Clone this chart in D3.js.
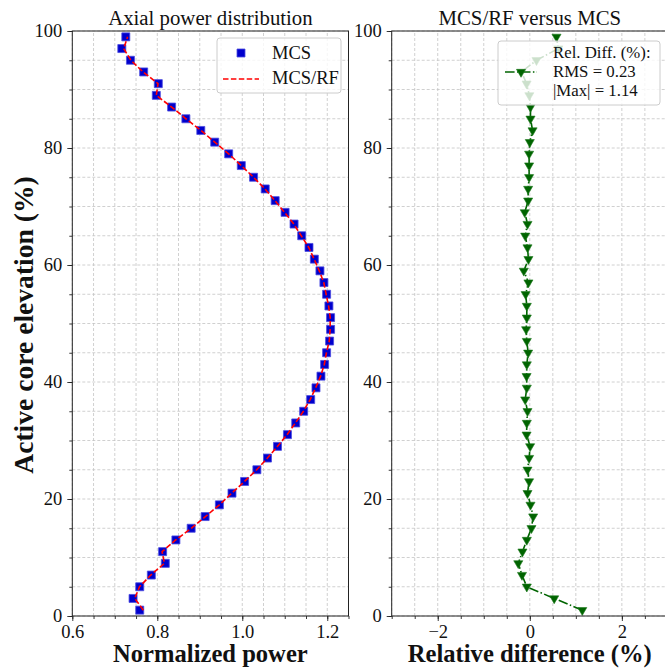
<!DOCTYPE html>
<html>
<head>
<meta charset="utf-8">
<script src="https://cdn.jsdelivr.net/npm/d3@7"></script>
<style>
  html, body { margin: 0; padding: 0; background: #fff; }
  svg { display: block; font-family: "Liberation Serif", "DejaVu Serif", serif; }
  .grid-line { stroke: #c4c4c4; stroke-width: 0.8; stroke-dasharray: 3,2; }
</style>
</head>
<body>
<div id="chart"></div>
<script>
// elevation of each axial node (%)
const elevation = [1, 3, 5, 7, 9, 11, 13, 15, 17, 19, 21, 23, 25, 27, 29, 31, 33, 35, 37, 39, 41, 43, 45, 47, 49,
  51, 53, 55, 57, 59, 61, 63, 65, 67, 69, 71, 73, 75, 77, 79, 81, 83, 85, 87, 89, 91, 93, 95, 97, 99];

const mcsPower = [0.7587, 0.743, 0.7587, 0.786, 0.8188, 0.8126, 0.8438, 0.8797, 0.9126, 0.9461, 0.9758, 1.0055,
  1.0344, 1.0594, 1.0829, 1.1063, 1.1258, 1.1445, 1.161, 1.1735, 1.1852, 1.1938, 1.1985, 1.2055, 1.2078,
  1.2078, 1.2039, 1.1985, 1.1922, 1.1828, 1.1696, 1.157, 1.1399, 1.1219, 1.1008, 1.0774, 1.054, 1.0266,
  0.9977, 0.968, 0.9352, 0.9024, 0.8673, 0.8337, 0.7977, 0.8024, 0.768, 0.7368, 0.7165, 0.7259];

const mcsRfPower = [0.7673, 0.7469, 0.7582, 0.7847, 0.8168, 0.8113, 0.8433, 0.88, 0.9133, 0.9462, 0.9753, 1.0053,
  1.0339, 1.0592, 1.083, 1.1055, 1.1251, 1.1439, 1.1598, 1.1727, 1.1844, 1.193, 1.1981, 1.2047, 1.2068,
  1.207, 1.2031, 1.1974, 1.1918, 1.1813, 1.1692, 1.1564, 1.1388, 1.1213, 1.0996, 1.077, 1.0536, 1.0264,
  0.9976, 0.9679, 0.9352, 0.9029, 0.8674, 0.8338, 0.7976, 0.8018, 0.7666, 0.7379, 0.7209, 0.7301];

const relDiff = [1.14, 0.53, -0.065, -0.17, -0.25, -0.16, -0.065, 0.036, 0.073, 0.015, -0.05, -0.015, -0.05,
  -0.015, 0.007, -0.07, -0.065, -0.05, -0.1, -0.065, -0.07, -0.065, -0.036, -0.065, -0.08, -0.065, -0.065,
  -0.09, -0.03, -0.13, -0.03, -0.05, -0.1, -0.05, -0.11, -0.036, -0.036, -0.015, -0.015, -0.015, 0.0, 0.06,
  0.015, 0.015, -0.01, -0.07, -0.18, 0.145, 0.62, 0.58];

const yTicks = [0, 20, 40, 60, 80, 100];
const powerTicks = [0.6, 0.8, 1.0, 1.2];
const diffTicks = [-2, 0, 2];
const legendLeft = ["MCS", "MCS/RF"];
const legendRight = ["Rel. Diff. (%):", "RMS = 0.23", "|Max| = 1.14"];

const width = 665, height = 672;
const svg = d3.select("#chart").append("svg").attr("width", width).attr("height", height);

const y = d3.scaleLinear().domain([0, 100]).range([616, 31]);
const xPow = d3.scaleLinear().domain([0.6, 1.25]).range([72.3, 348.5]);
const xDiff = d3.scaleLinear().domain([-3, 3]).range([391.7, 667.9]);

const yMinor = d3.range(0, 100.01, 5);

function drawPanel(x, majorX, minorStep, fmt) {
  const [x0, x1] = x.range();
  const [d0, d1] = x.domain();
  const xMinor = d3.range(d0, d1 + 1e-9, minorStep).map((v) => +v.toFixed(4));
  const g = svg.append("g");

  // dashed grid on major + minor positions
  g.append("g").selectAll("line").data(xMinor).join("line")
    .attr("class", "grid-line")
    .attr("x1", (d) => x(d)).attr("x2", (d) => x(d))
    .attr("y1", y(0)).attr("y2", y(100));
  g.append("g").selectAll("line").data(yMinor).join("line")
    .attr("class", "grid-line")
    .attr("x1", x0).attr("x2", x1)
    .attr("y1", (d) => y(d)).attr("y2", (d) => y(d));

  // minor ticks
  g.append("g").attr("transform", `translate(0,${y(0)})`)
    .call(d3.axisBottom(x).tickValues(xMinor).tickSize(3).tickFormat(""))
    .call((a) => a.select(".domain").remove());
  g.append("g").attr("transform", `translate(${x0},0)`)
    .call(d3.axisLeft(y).tickValues(yMinor).tickSize(3).tickFormat(""))
    .call((a) => a.select(".domain").remove());

  // major ticks
  const xa = g.append("g").attr("transform", `translate(0,${y(0)})`)
    .call(d3.axisBottom(x).tickValues(majorX).tickSize(5).tickPadding(3.5).tickFormat(fmt));
  const ya = g.append("g").attr("transform", `translate(${x0},0)`)
    .call(d3.axisLeft(y).tickValues(yTicks).tickSize(5).tickPadding(5).tickFormat(d3.format("d")));
  [xa, ya].forEach((a) => {
    a.select(".domain").remove();
    a.selectAll("text").attr("font-size", 18.5).attr("font-family", "Liberation Serif").attr("fill", "#111");
  });
  g.selectAll(".tick line").attr("stroke", "#222").attr("stroke-width", 0.9);

  return g;
}

function frame(x) {
  const [x0, x1] = x.range();
  svg.append("rect")
    .attr("x", x0).attr("y", y(100))
    .attr("width", x1 - x0).attr("height", y(0) - y(100))
    .attr("fill", "none").attr("stroke", "#222").attr("stroke-width", 1);
}

// ---- left panel: axial power
drawPanel(xPow, powerTicks, 0.05, d3.format(".1f"));
const powerData = elevation.map((e, i) => ({ e, mcs: mcsPower[i], rf: mcsRfPower[i] }));

svg.append("g").selectAll("path").data(powerData).join("path")
  .attr("d", d3.symbol(d3.symbolSquare, 64))
  .attr("transform", (d) => `translate(${xPow(d.mcs)},${y(d.e)})`)
  .attr("fill", "#0000cd").attr("stroke", "#4b4be0").attr("stroke-width", 0.8);

svg.append("path").datum(powerData)
  .attr("fill", "none").attr("stroke", "#ff0000").attr("stroke-width", 1.6)
  .attr("stroke-dasharray", "5.5,2.4")
  .attr("d", d3.line().x((d) => xPow(d.rf)).y((d) => y(d.e)));

frame(xPow);

// ---- right panel: relative difference
drawPanel(xDiff, diffTicks, 0.5, d3.format("d"));
const diffData = elevation.map((e, i) => ({ e, v: relDiff[i] }));

svg.append("path").datum(diffData)
  .attr("fill", "none").attr("stroke", "#006400").attr("stroke-width", 1.6)
  .attr("stroke-dasharray", "9.6,2.4,1.5,2.4")
  .attr("d", d3.line().x((d) => xDiff(d.v)).y((d) => y(d.e)));

const tri = d3.symbol(d3.symbolTriangle, 36);
svg.append("g").selectAll("path").data(diffData).join("path")
  .attr("d", tri)
  .attr("transform", (d) => `translate(${xDiff(d.v)},${y(d.e)}) rotate(180)`)
  .attr("fill", "#006400").attr("stroke", "#1f7a1f").attr("stroke-width", 0.6);

frame(xDiff);

// ---- legends
const legL = svg.append("g");
legL.append("rect").attr("x", 217).attr("y", 38).attr("width", 124).attr("height", 55).attr("rx", 3)
  .attr("fill", "#fff").attr("fill-opacity", 0.8).attr("stroke", "#cccccc");
legL.append("path").attr("d", d3.symbol(d3.symbolSquare, 64)).attr("transform", "translate(241,53)")
  .attr("fill", "#0000cd").attr("stroke", "#4b4be0").attr("stroke-width", 0.8);
legL.append("line").attr("x1", 223).attr("x2", 259).attr("y1", 79).attr("y2", 79)
  .attr("stroke", "#ff0000").attr("stroke-width", 1.6).attr("stroke-dasharray", "5.5,2.4");
legL.selectAll("text").data(legendLeft).join("text")
  .attr("x", 272).attr("y", (_, i) => 59.3 + i * 24.7)
  .attr("font-size", 18.5).attr("fill", "#111").text((d) => d);

const legR = svg.append("g");
legR.append("rect").attr("x", 498).attr("y", 41).attr("width", 162).attr("height", 64).attr("rx", 3)
  .attr("fill", "#fff").attr("fill-opacity", 0.8).attr("stroke", "#cccccc");
legR.append("line").attr("x1", 505).attr("x2", 537).attr("y1", 72).attr("y2", 72)
  .attr("stroke", "#006400").attr("stroke-width", 1.6).attr("stroke-dasharray", "9.6,2.4,1.5,2.4");
legR.append("path").attr("d", tri).attr("transform", "translate(521,72) rotate(180)")
  .attr("fill", "#006400").attr("stroke", "#1f7a1f").attr("stroke-width", 0.6);
legR.selectAll("text").data(legendRight).join("text")
  .attr("x", 553).attr("y", (_, i) => 57.5 + i * 19)
  .attr("font-size", 16.8).attr("fill", "#111").text((d) => d);

// ---- titles and axis labels
svg.append("text").attr("x", 210.4).attr("y", 25).attr("text-anchor", "middle")
  .attr("font-size", 20.8).attr("fill", "#111").text("Axial power distribution");
svg.append("text").attr("x", 529.8).attr("y", 25).attr("text-anchor", "middle")
  .attr("font-size", 20.8).attr("fill", "#111").text("MCS/RF versus MCS");
svg.append("text").attr("x", 210.4).attr("y", 662).attr("text-anchor", "middle")
  .attr("font-size", 24.6).attr("font-weight", "bold").attr("fill", "#111").text("Normalized power");
svg.append("text").attr("x", 529.8).attr("y", 662).attr("text-anchor", "middle")
  .attr("font-size", 24.6).attr("font-weight", "bold").attr("fill", "#111").text("Relative difference (%)");
svg.append("text").attr("transform", "translate(33,325) rotate(-90)").attr("text-anchor", "middle")
  .attr("font-size", 27.6).attr("font-weight", "bold").attr("fill", "#111").text("Active core elevation (%)");
</script>
</body>
</html>
